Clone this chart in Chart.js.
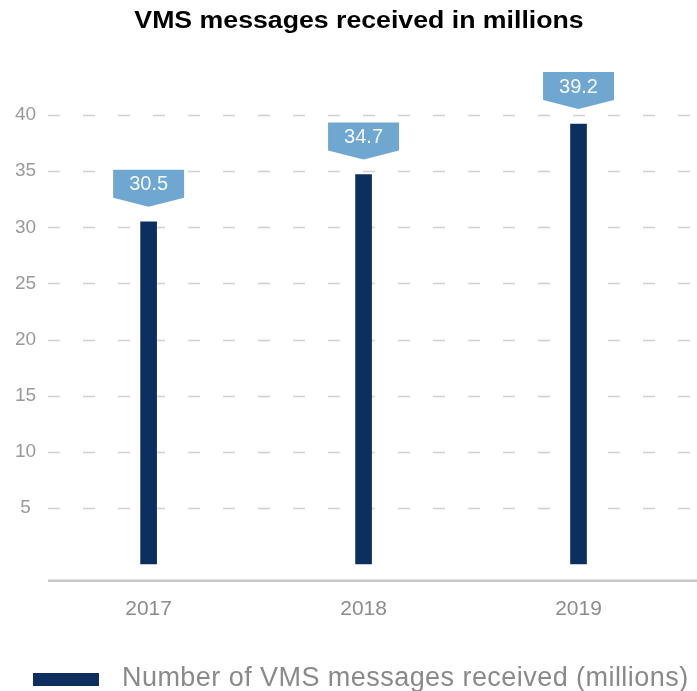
<!DOCTYPE html>
<html>
<head>
<meta charset="utf-8">
<script src="https://cdn.jsdelivr.net/npm/chart.js@4.4.0/dist/chart.umd.min.js"></script>
<style>
  html, body { margin: 0; padding: 0; background: #fff; }
  #wrap { width: 697px; height: 691px; }
</style>
</head>
<body>
<div id="wrap"><canvas id="myChart" width="697" height="691"></canvas></div>
<script>
// dati del grafico
var anni = ['2017', '2018', '2019'];
var messaggi = [30.5, 34.7, 39.2];
var tickY = [5, 10, 15, 20, 25, 30, 35, 40];
var titolo = 'VMS messages received in millions';
var etichettaSerie = 'Number of VMS messages received (millions)';

var BLU = '#0c2f60';
var AZZURRO = '#70a7d1';
var FONT = '"Liberation Sans", Arial, sans-serif';

// titolo, griglia tratteggiata, asse, etichette a fumetto e legenda disegnate a mano
var decorazioni = {
  id: 'decorazioni',
  beforeDatasetsDraw: function(chart) {
    var c = chart.ctx;
    var y = chart.scales.y;
    var x0 = 48, x1 = chart.width;
    c.save();
    c.strokeStyle = '#d0d0d0';
    c.lineWidth = 1.5;
    c.setLineDash([12, 23]);
    tickY.forEach(function(v) {
      var py = Math.round(y.getPixelForValue(v)) + 0.5;
      c.beginPath();
      c.moveTo(x0, py);
      c.lineTo(x1, py);
      c.stroke();
    });
    c.setLineDash([]);
    c.strokeStyle = '#c8c8c8';
    c.lineWidth = 2.5;
    var base = chart.chartArea.bottom;
    c.beginPath();
    c.moveTo(x0, base);
    c.lineTo(x1, base);
    c.stroke();
    c.restore();
  },
  afterDatasetsDraw: function(chart) {
    var c = chart.ctx;
    var meta = chart.getDatasetMeta(0);
    c.save();

    // titolo (font largo, leggermente allargato in orizzontale)
    c.save();
    c.translate(359, 28);
    c.scale(1.16, 1);
    c.fillStyle = '#000';
    c.font = 'bold 23px ' + FONT;
    c.textAlign = 'center';
    c.textBaseline = 'alphabetic';
    c.fillText(titolo, 0, 0);
    c.restore();

    meta.data.forEach(function(bar, i) {
      var cx = bar.x;
      var punta = bar.y - 15;
      var basso = punta - 9;
      var alto = basso - 28;
      var w = 71;
      c.fillStyle = AZZURRO;
      c.beginPath();
      c.moveTo(cx - w / 2, alto);
      c.lineTo(cx + w / 2, alto);
      c.lineTo(cx + w / 2, basso);
      c.lineTo(cx, punta);
      c.lineTo(cx - w / 2, basso);
      c.closePath();
      c.fill();
      c.fillStyle = '#f4f8fc';
      c.font = '20px ' + FONT;
      c.textAlign = 'center';
      c.textBaseline = 'middle';
      c.fillText(messaggi[i].toFixed(1), cx, (alto + basso) / 2 + 1);
    });

    // legenda
    c.fillStyle = BLU;
    c.fillRect(33, 673, 66, 13);
    c.fillStyle = '#8a8a8a';
    c.font = '27px ' + FONT;
    c.letterSpacing = '0.45px';
    c.textAlign = 'left';
    c.textBaseline = 'alphabetic';
    c.fillText(chart.data.datasets[0].label, 122, 686);
    c.restore();
  }
};

var ctx = document.getElementById('myChart').getContext('2d');
var myChart = new Chart(ctx, {
  type: 'bar',
  data: {
    labels: anni,
    datasets: [{
      label: etichettaSerie,
      data: messaggi,
      backgroundColor: BLU,
      barThickness: 16
    }]
  },
  options: {
    responsive: false,
    animation: false,
    layout: {
      padding: { left: 10, right: 11, top: 68, bottom: 53 }
    },
    plugins: {
      legend: { display: false },
      tooltip: { enabled: false },
      title: { display: false }
    },
    scales: {
      x: {
        grid: { display: false, drawTicks: false },
        border: { display: false },
        ticks: {
          color: '#8c8c8c',
          font: { family: FONT, size: 21 },
          padding: 16
        }
      },
      y: {
        min: -1.5,
        max: 44.2,
        afterBuildTicks: function(scale) {
          scale.ticks = tickY.map(function(v) { return { value: v }; });
        },
        grid: { display: false, drawTicks: false },
        border: { display: false },
        ticks: {
          color: '#9a9a9a',
          font: { family: FONT, size: 19 },
          crossAlign: 'center',
          padding: 5
        }
      }
    }
  },
  plugins: [decorazioni]
});
</script>
</body>
</html>
